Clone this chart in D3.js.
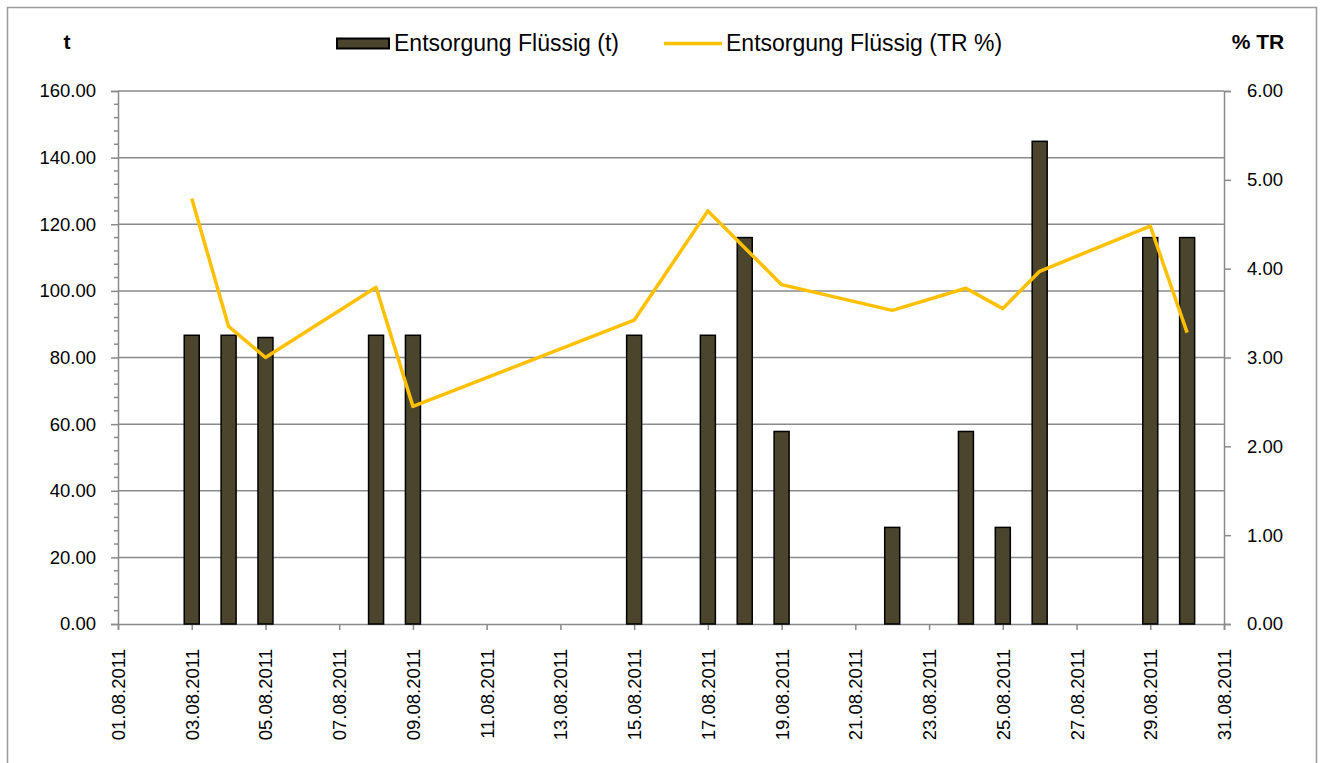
<!DOCTYPE html>
<html>
<head>
<meta charset="utf-8">
<script src="https://cdn.jsdelivr.net/npm/d3@7"></script>
<style>
  body { margin: 0; background: #fff; }
  svg { display: block; font-family: "Liberation Sans", Arial, sans-serif; }
</style>
</head>
<body>
<div id="chart"></div>
<script>
// Data
var barDates = ["03.08.2011", "04.08.2011", "05.08.2011", "08.08.2011", "09.08.2011", "15.08.2011",
	"17.08.2011", "18.08.2011", "19.08.2011", "22.08.2011", "24.08.2011", "25.08.2011",
	"26.08.2011", "29.08.2011", "30.08.2011"];
var barValues = [86.67, 86.67, 86.0, 86.67, 86.67, 86.67, 86.67, 116.0, 57.8, 29.0, 57.8, 29.0, 144.9, 116.0, 116.0];

// TR % has no value on 18.08
var lineDates = ["03.08.2011", "04.08.2011", "05.08.2011", "08.08.2011", "09.08.2011", "15.08.2011",
	"17.08.2011", "19.08.2011", "22.08.2011", "24.08.2011", "25.08.2011", "26.08.2011",
	"29.08.2011", "30.08.2011"];
var lineValues = [4.79, 3.35, 3.0, 3.79, 2.45, 3.42, 4.65, 3.82, 3.53, 3.78, 3.55, 3.97, 4.48, 3.28];

var leftTicks = [0, 20, 40, 60, 80, 100, 120, 140, 160];
var rightTicks = [0, 1, 2, 3, 4, 5, 6];
var xStart = "01.08.2011", xEnd = "31.08.2011";

var seriesNames = ["Entsorgung Flüssig (t)", "Entsorgung Flüssig (TR %)"];
var leftTitle = "t", rightTitle = "% TR";

// Layout
var W = 1325, H = 763;
var PL = 118, PR = 1224, PT = 91, PB = 624;
var GRID = "#8a8a8a";
var BAR_FILL = "#4b452e";
var LINE_CLR = "#ffc000";
var BAR_W = 15;

var parse = d3.timeParse("%d.%m.%Y");
var fmt = d3.timeFormat("%d.%m.%Y");

var svg = d3.select("#chart").append("svg")
	.attr("width", W)
	.attr("height", H);

// outer frame (bottom edge is below the window)
svg.append("rect")
	.attr("x", 7.5).attr("y", 7.5)
	.attr("width", 1309).attr("height", 820)
	.attr("fill", "none")
	.attr("stroke", "#9a9a9a")
	.attr("stroke-width", 1.5);

var x = d3.scaleTime().domain([parse(xStart), parse(xEnd)]).range([PL, PR]);
var y = d3.scaleLinear().domain([0, 160]).range([PB, PT]);
var y2 = d3.scaleLinear().domain([0, 6]).range([PB, PT]);

// gridlines
svg.append("g").selectAll("line")
	.data(leftTicks.filter(function(d) { return d > 0; }))
	.enter().append("line")
	.attr("x1", PL).attr("x2", PR)
	.attr("y1", function(d) { return y(d); })
	.attr("y2", function(d) { return y(d); })
	.attr("stroke", GRID)
	.attr("stroke-width", 1.5);

// left axis
var yAxis = svg.append("g")
	.attr("transform", "translate(" + PL + ",0)")
	.call(d3.axisLeft(y).tickValues(leftTicks).tickSize(7).tickPadding(15)
		.tickFormat(function(d) { return d3.format(".2f")(d); }));
// minor ticks every 4
svg.append("g").selectAll("line")
	.data(d3.range(0, 161, 4).filter(function(d) { return d % 20 != 0; }))
	.enter().append("line")
	.attr("x1", PL - 4).attr("x2", PL)
	.attr("y1", function(d) { return y(d); })
	.attr("y2", function(d) { return y(d); })
	.attr("stroke", GRID)
	.attr("stroke-width", 1.5);

// right axis
var y2Axis = svg.append("g")
	.attr("transform", "translate(" + PR + ",0)")
	.call(d3.axisRight(y2).tickValues(rightTicks).tickSize(7).tickPadding(16)
		.tickFormat(function(d) { return d3.format(".2f")(d); }));

// bottom axis
var xAxis = svg.append("g")
	.attr("transform", "translate(0," + PB + ")")
	.call(d3.axisBottom(x).ticks(d3.timeDay.every(2)).tickSize(6).tickFormat(fmt));

xAxis.selectAll("text")
	.attr("transform", "rotate(-90)")
	.attr("text-anchor", "end")
	.attr("x", -25)
	.attr("y", 0)
	.attr("dy", "0.35em");

[yAxis, y2Axis, xAxis].forEach(function(g) {
	g.select(".domain").attr("stroke", GRID).attr("stroke-width", 1.5);
	g.selectAll(".tick line").attr("stroke", GRID).attr("stroke-width", 1.5);
	g.selectAll("text")
		.attr("fill", "#000")
		.style("font-size", "18.5px")
		.style("font-family", "'Liberation Sans', Arial, sans-serif");
});

// bars
svg.append("g").selectAll("rect")
	.data(barDates.map(function(d, i) { return {date: parse(d), value: barValues[i]}; }))
	.enter().append("rect")
	.attr("x", function(d) { return x(d.date) - BAR_W / 2; })
	.attr("y", function(d) { return y(d.value); })
	.attr("width", BAR_W)
	.attr("height", function(d) { return PB - y(d.value); })
	.attr("fill", BAR_FILL)
	.attr("stroke", "#000")
	.attr("stroke-width", 1.5);

// line
var lineData = lineDates.map(function(d, i) { return {date: parse(d), value: lineValues[i]}; });
svg.append("path")
	.datum(lineData)
	.attr("fill", "none")
	.attr("stroke", LINE_CLR)
	.attr("stroke-width", 3.5)
	.attr("stroke-linejoin", "round")
	.attr("d", d3.line()
		.x(function(d) { return x(d.date); })
		.y(function(d) { return y2(d.value); }));

// axis titles
svg.append("text")
	.attr("x", 67).attr("y", 49)
	.attr("text-anchor", "middle")
	.style("font-size", "21px").style("font-weight", "bold")
	.text(leftTitle);
svg.append("text")
	.attr("x", 1258).attr("y", 49)
	.attr("text-anchor", "middle")
	.style("font-size", "21px").style("font-weight", "bold")
	.text(rightTitle);

// legend
var leg = svg.append("g");
leg.append("rect")
	.attr("x", 337).attr("y", 38.5)
	.attr("width", 52).attr("height", 10)
	.attr("fill", BAR_FILL)
	.attr("stroke", "#000")
	.attr("stroke-width", 2);
leg.append("text")
	.attr("x", 394).attr("y", 51)
	.style("font-size", "23px")
	.text(seriesNames[0]);
leg.append("line")
	.attr("x1", 664).attr("x2", 722)
	.attr("y1", 43.5).attr("y2", 43.5)
	.attr("stroke", LINE_CLR)
	.attr("stroke-width", 3.5);
leg.append("text")
	.attr("x", 726).attr("y", 51)
	.style("font-size", "23px")
	.text(seriesNames[1]);
</script>
</body>
</html>
